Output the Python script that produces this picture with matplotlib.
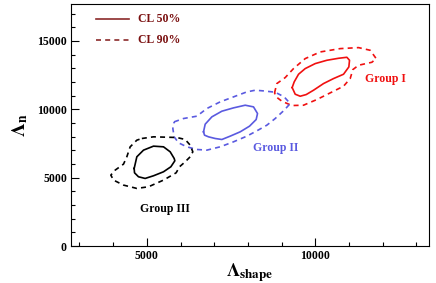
import matplotlib
matplotlib.use("Agg")
import matplotlib.pyplot as plt
import numpy as np

plt.rcParams['font.family'] = ['Liberation Serif', 'DejaVu Serif']
plt.rcParams['mathtext.fontset'] = 'stix'

# Contour outlines (Lambda_shape, Lambda_n)
g3_50_x = [4624, 4703, 4901, 5198, 5495, 5693, 5812, 5832, 5713, 5495, 5198, 4950, 4752, 4634]
g3_50_y = [5674, 6526, 7013, 7305, 7256, 6891, 6404, 6234, 5795, 5430, 5138, 4943, 5065, 5357]
g3_90_x = [4852, 5198, 5891, 6139, 6287, 6366, 6287, 6139, 5970, 5871, 5495, 5050, 4703, 4307,
           4010, 3931, 4060, 4307, 4406, 4505, 4703]
g3_90_y = [7865, 7987, 7938, 7792, 7378, 6891, 6526, 6161, 5795, 5357, 4821, 4334, 4213, 4456,
           4821, 5187, 5552, 5990, 6526, 7256, 7743]
g2_50_x = [6683, 6733, 6931, 7228, 7574, 7921, 8168, 8287, 8247, 8049, 7772, 7475, 7228, 7030, 6832, 6713]
g2_50_y = [8352, 8912, 9448, 9862, 10105, 10300, 10178, 9691, 9253, 8766, 8352, 8036, 7792, 7865, 7987, 8109]
g2_90_x = [5812, 6089, 6485, 6782, 7178, 7574, 7970, 8218, 8465, 8812, 9079, 9257, 9079, 8812,
           8564, 8267, 7970, 7574, 7178, 6782, 6485, 6188, 5941, 5812, 5772]
g2_90_y = [9083, 9326, 9497, 10057, 10544, 10909, 11274, 11396, 11347, 11250, 10909, 10422, 9935, 9326,
           8839, 8425, 8036, 7622, 7256, 7013, 7062, 7256, 7549, 7987, 8596]
g1_50_x = [9316, 9376, 9505, 9703, 10000, 10346, 10693, 10940, 11019, 10999, 10841, 10544, 10247,
           9950, 9733, 9554, 9406]
g1_50_y = [11591, 12005, 12565, 12979, 13344, 13587, 13733, 13806, 13587, 13100, 12565, 12248, 11883,
           11396, 11079, 10957, 11104]
g1_90_x = [8792, 8861, 9109, 9356, 9703, 10148, 10742, 11287, 11633, 11811, 11683, 11287, 11118,
           11039, 10841, 10445, 10049, 9653, 9307, 9010, 8842]
g1_90_y = [11201, 11883, 12321, 12979, 13709, 14196, 14440, 14513, 14318, 13709, 13441, 13222, 12906,
           12248, 11688, 11201, 10714, 10300, 10276, 10592, 10909]

group_names = ["Group I", "Group II", "Group III"]
label_x = [12079, 8831, 5525]
label_y = [12248, 7135, 2679]
colors = ["#f01010", "#5a5ae0", "#000000"]
legend_labels = ["CL 50%", "CL 90%"]

fig = plt.figure(figsize=(4.36, 2.83), dpi=100)
ax = fig.add_axes([0.163, 0.1307, 0.821, 0.855])

def closed(x, y):
    return list(x) + [x[0]], list(y) + [y[0]]

sets = [(g1_50_x, g1_50_y, g1_90_x, g1_90_y),
        (g2_50_x, g2_50_y, g2_90_x, g2_90_y),
        (g3_50_x, g3_50_y, g3_90_x, g3_90_y)]
for (sx, sy, dx, dy), c in zip(sets, colors):
    x, y = closed(sx, sy)
    ax.plot(x, y, color=c, lw=1.2, solid_joinstyle='round')
    x, y = closed(dx, dy)
    ax.plot(x, y, color=c, lw=1.2, ls=(0, (3.0, 2.5)))

for name, lx, ly, c in zip(group_names, label_x, label_y, colors):
    ax.text(lx, ly, name, color=c, fontsize=8.5, fontweight='bold', ha='center', va='center')

# legend
ax.plot([0.07, 0.162], [0.938, 0.938], transform=ax.transAxes, color="#8b2a2a", lw=1.2)
ax.plot([0.07, 0.162], [0.851, 0.851], transform=ax.transAxes, color="#8b2a2a", lw=1.2, ls=(0, (3.0, 2.5)))
ax.text(0.187, 0.938, legend_labels[0], transform=ax.transAxes, color="#7a1010", fontsize=8.5,
        fontweight='bold', va='center')
ax.text(0.187, 0.851, legend_labels[1], transform=ax.transAxes, color="#7a1010", fontsize=8.5,
        fontweight='bold', va='center')

ax.set_xlim(2750, 13380)
ax.set_ylim(0, 17700)
ax.set_xticks([5000, 10000])
ax.set_yticks([0, 5000, 10000, 15000])
ax.set_xticks(np.arange(3000, 13001, 1000), minor=True)
ax.set_yticks(np.arange(1000, 17001, 1000), minor=True)
ax.tick_params(which='both', direction='in', top=False, right=False, labelsize=8.5, pad=3)
ax.tick_params(which='major', length=6, width=0.8)
ax.tick_params(which='minor', length=3, width=0.8)
for lab in ax.get_xticklabels() + ax.get_yticklabels():
    lab.set_fontweight('bold')
for s in ax.spines.values():
    s.set_linewidth(0.8)

ax.set_xlabel(r'$\mathbf{\Lambda}_{\mathbf{shape}}$', fontsize=13.5, labelpad=-1)
ax.set_ylabel(r'$\mathbf{\Lambda}_{\mathbf{n}}$', fontsize=14, labelpad=5)

fig.savefig("out.png", dpi=100)
